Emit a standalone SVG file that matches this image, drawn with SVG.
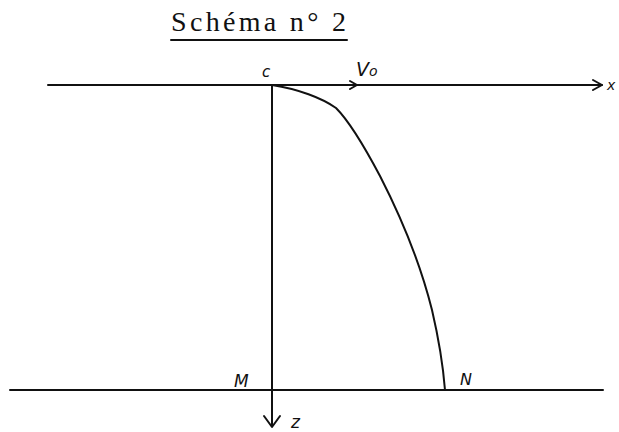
<svg xmlns="http://www.w3.org/2000/svg" width="619" height="432" viewBox="0 0 619 432">
<style>
.ln{stroke:#111;stroke-width:2;fill:none;stroke-linecap:round;stroke-linejoin:round}
.hw{font-family:"DejaVu Sans","Liberation Sans",sans-serif;font-style:italic;fill:#111}
</style>
<rect width="619" height="432" fill="#fff"/>
<g id="title">
<text x="171" y="31" font-family="Liberation Serif,serif" font-size="28" fill="#111" textLength="175" lengthAdjust="spacing">Schéma n° 2</text>
<line x1="171" y1="40" x2="347" y2="40" class="ln" stroke-width="1.6"/>
</g>
<g id="connectors">
<line id="axis-x" x1="48" y1="85" x2="602" y2="85" class="ln"/>
<path d="M593,80 L602,85 L593,90" class="ln"/>
<path d="M350,81 L357,85 L350,89" class="ln" stroke-width="1.6"/>
<line id="axis-z" x1="272" y1="85" x2="272" y2="426" class="ln"/>
<path d="M264,416 L272,427 L280,416" class="ln"/>
<line id="ground" x1="10" y1="390" x2="603" y2="390" class="ln"/>
<path id="trajectory" d="M272,85 C298,89 322,98 336,108 C346,118 362,142 380,176 C400,215 420,262 432,310 C439,340 443,365 445,390" class="ln" stroke-width="1.8"/>
</g>
<g id="labels">
<text x="262" y="77" class="hw" font-size="15">c</text>
<text x="356" y="76" class="hw" font-size="19">V<tspan font-size="14">o</tspan></text>
<text x="607" y="90" class="hw" font-size="14">x</text>
<text x="234" y="387" class="hw" font-size="17">M</text>
<text x="460" y="385" class="hw" font-size="16">N</text>
<text x="291" y="428" class="hw" font-size="17">z</text>
</g>
</svg>
